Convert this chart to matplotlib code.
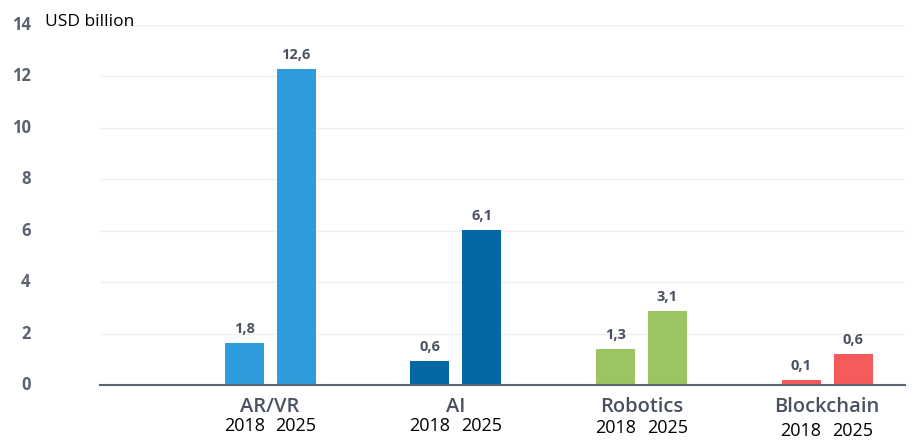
import matplotlib
matplotlib.use("Agg")
import matplotlib.pyplot as plt
import matplotlib.transforms as mtransforms
import numpy as np

categories = ["AR/VR", "AI", "Robotics", "Blockchain"]
years = ["2018", "2025"]
# bar heights as drawn in the picture
values_2018 = [1.63, 0.93, 1.40, 0.19]
values_2025 = [12.3, 6.03, 2.88, 1.2]
# printed value labels
labels_2018 = ["1,8", "0,6", "1,3", "0,1"]
labels_2025 = ["12,6", "6,1", "3,1", "0,6"]
colors = ["#2E9BDB", "#0468A5", "#9CC461", "#F65B5B"]
yticks = [0, 2, 4, 6, 8, 10, 12, 14]

plt.rcParams['font.family'] = ['Open Sans', 'DejaVu Sans']

fig = plt.figure(figsize=(9.16, 4.4), dpi=100)
ax = fig.add_axes([100/916, 1-385/440, 805/916, 360/440])

x = np.arange(len(categories))
w = 0.21
off = 0.14
for i in range(len(categories)):
    ax.bar(x[i]-off, values_2018[i], w, color=colors[i], zorder=3)
    ax.bar(x[i]+off, values_2025[i], w, color=colors[i], zorder=3)
    for xx, v, lab in [(x[i]-off, values_2018[i], labels_2018[i]), (x[i]+off, values_2025[i], labels_2025[i])]:
        ax.annotate(lab, (xx, v), xytext=(0, 5), textcoords='offset points',
                    ha='center', va='bottom', fontsize=10.5, fontweight='bold', color='#4A5261')
    ax.text(x[i], -0.86, categories[i], ha='center', va='center', fontsize=14.5,
            fontweight='semibold', color='#4A5261', clip_on=False)
    ydy = -1.79 if i == 3 else (-1.68 if i == 2 else -1.6)
    ax.text(x[i]-off, ydy, years[0], ha='center', va='center', fontsize=13, color='black', clip_on=False)
    ax.text(x[i]+off, ydy, years[1], ha='center', va='center', fontsize=13, color='black', clip_on=False)

ax.set_xlim(-0.916, 3.42)
ax.set_ylim(0, 14)
ax.set_yticks(yticks)
ax.set_yticklabels([str(t) for t in yticks], fontsize=12, fontweight='bold', color='#5B6373')
ax.tick_params(axis='y', length=0, pad=50)
shift = mtransforms.ScaledTranslation(0, 2/100, fig.dpi_scale_trans)
for lab in ax.get_yticklabels():
    lab.set_transform(lab.get_transform() + shift)
ax.set_xticks([])
ax.grid(axis='y', color='#F0F0F0', linewidth=1, zorder=0)
for s in ['top', 'right', 'left']:
    ax.spines[s].set_visible(False)
ax.spines['bottom'].set_color('#5B6475')
ax.spines['bottom'].set_linewidth(1.5)
ax.spines['bottom'].set_zorder(4)

fig.text(45/916, 1-22/440, "USD billion", ha='left', va='center', fontsize=12.5, color='black')

fig.savefig("out.png", dpi=100)
